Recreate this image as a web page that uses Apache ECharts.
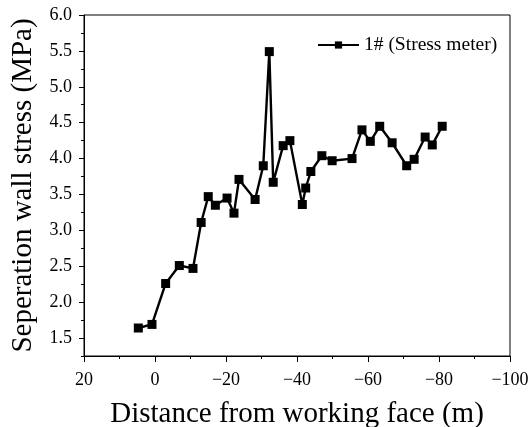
<!DOCTYPE html>
<html>
<head>
<meta charset="utf-8">
<script src="https://cdn.jsdelivr.net/npm/echarts@6/dist/echarts.min.js"></script>
<style>html,body{margin:0;padding:0;background:#fff}#c{width:532px;height:427px}</style>
</head>
<body>
<div id="c"></div>
<script>
const distances = [4.7, 0.85, -3.0, -6.85, -10.7, -13.0, -15.0, -17.0, -20.3, -22.25, -23.66, -28.2, -30.5, -32.2, -33.3, -36.1, -38.0, -41.5, -42.45, -43.9, -47.0, -49.9, -55.5, -58.3, -60.65, -63.3, -66.8, -70.9, -73.0, -76.1, -78.1, -80.9];
const stress = [1.64, 1.69, 2.26, 2.51, 2.47, 3.11, 3.47, 3.35, 3.45, 3.24, 3.71, 3.43, 3.90, 5.49, 3.67, 4.18, 4.25, 3.36, 3.59, 3.82, 4.04, 3.97, 4.00, 4.40, 4.24, 4.45, 4.22, 3.90, 3.99, 4.30, 4.19, 4.45];
const yTickLabels = [1.5, 2.0, 2.5, 3.0, 3.5, 4.0, 4.5, 5.0, 5.5, 6.0];
const seriesName = '1# (Stress meter)';
const xTitle = 'Distance from working face (m)';
const yTitle = 'Seperation wall stress (MPa)';

const serif = 'Liberation Serif';
const chart = echarts.init(document.getElementById('c'), null, {renderer: 'canvas'});
chart.setOption({
  animation: false,
  backgroundColor: '#fff',
  grid: {left: 84, right: 22, top: 15, bottom: 71, containLabel: false, outerBoundsMode: 'none',
    show: true, borderColor: '#000', borderWidth: 1},
  legend: {
    data: [seriesName], left: 312, top: 30, itemWidth: 41, itemHeight: 9, itemGap: 5,
    textStyle: {fontFamily: serif, fontSize: 19.5, color: '#000'}
  },
  xAxis: {
    type: 'value', min: -100, max: 20, interval: 20, inverse: true,
    name: xTitle, nameLocation: 'middle', nameGap: 44,
    nameTextStyle: {fontFamily: serif, fontSize: 29, color: '#000'},
    axisLine: {onZero: false, lineStyle: {color: '#000', width: 1}},
    axisTick: {show: true, length: 6, lineStyle: {color: '#000'}},
    minorTick: {show: true, splitNumber: 2, length: 3, lineStyle: {color: '#000'}},
    splitLine: {show: false},
    axisLabel: {fontFamily: serif, fontSize: 18, color: '#000', margin: 15,
      formatter: v => v < 0 ? '\u2212' + (-v) : String(v)}
  },
  yAxis: [{
    type: 'value', min: 1.25, max: 6.0,
    name: yTitle, nameLocation: 'middle', nameGap: 46,
    nameTextStyle: {fontFamily: serif, fontSize: 29, color: '#000'},
    axisLine: {show: true, onZero: false, lineStyle: {color: '#000', width: 1}},
    axisTick: {show: true, length: 5, customValues: yTickLabels, lineStyle: {color: '#000'}},
    splitLine: {show: false},
    axisLabel: {fontFamily: serif, fontSize: 18, color: '#000', margin: 12, customValues: yTickLabels,
      formatter: v => v.toFixed(1)}
  }, {
    type: 'value', min: 1.25, max: 6.0, interval: 0.25, position: 'left',
    axisLine: {show: false, onZero: false},
    axisTick: {show: true, length: 3, lineStyle: {color: '#000'}},
    axisLabel: {show: false},
    splitLine: {show: false}
  }],
  series: [{
    name: seriesName, type: 'line', yAxisIndex: 0,
    data: distances.map((d, i) => [d, stress[i]]),
    symbol: 'rect', symbolSize: 9,
    lineStyle: {color: '#000', width: 2.4},
    itemStyle: {color: '#000'}
  }]
});
</script>
</body>
</html>
